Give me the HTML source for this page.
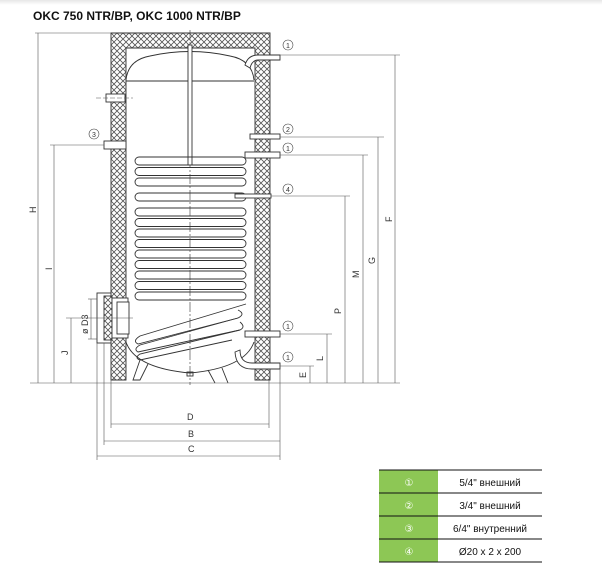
<!DOCTYPE html>
<html><head><meta charset="utf-8"><style>
html,body{margin:0;padding:0;background:#fff;}
body{width:602px;height:565px;overflow:hidden;position:relative;}
svg{position:absolute;left:0;top:0;}
</style></head><body>
<svg width="602" height="565" viewBox="0 0 602 565" font-family="Liberation Sans, sans-serif">
<defs>
<linearGradient id="tg" x1="0" y1="0" x2="0" y2="1"><stop offset="0" stop-color="#e6e6e6"/><stop offset="1" stop-color="#fff"/></linearGradient>
<pattern id="hx" width="6" height="6" patternUnits="userSpaceOnUse">
<rect width="6" height="6" fill="#fff"/>
<path d="M0 0L6 6M6 0L0 6" stroke="#555" stroke-width="0.8"/>
</pattern>
</defs>
<rect x="0" y="0" width="602" height="5" fill="url(#tg)"/>
<text x="33" y="20" font-size="12" font-weight="bold" fill="#111">OKC 750 NTR/BP, OKC 1000 NTR/BP</text>

<g stroke="#333" stroke-width="0.9" fill="none">
<path d="M111 33H270V380H255V48H126V380H111Z" fill="url(#hx)"/>
<rect x="97" y="293" width="14" height="50" fill="#fff"/>
<rect x="104" y="296" width="8" height="44" fill="url(#hx)"/>
<rect x="112" y="298" width="16" height="40" fill="#fff"/>
<rect x="117" y="302" width="12" height="32" fill="#fff"/>
<path d="M126 80Q128 60 150 56Q190 47 230 56Q252 60 254 80"/>
<line x1="126" y1="81" x2="254" y2="81"/>
<line x1="190" y1="30" x2="190" y2="385" stroke-dasharray="10 2 2 2" stroke-width="0.6"/>
<rect x="188" y="45" width="4" height="120" fill="#fff"/>
<path d="M126 342Q135 368 190 373Q245 368 254 342"/>
<path d="M140 360L133 380H140L148 364"/>
<path d="M208 370L215 383M222 368L228 383"/>
<rect x="187" y="372" width="6" height="4"/>
<g stroke-width="0.9">
<rect x="135" y="157" width="111" height="8" rx="4"/>
<rect x="135" y="167.5" width="111" height="8" rx="4"/>
<rect x="135" y="178" width="111" height="8" rx="4"/>
<rect x="135" y="193" width="111" height="8" rx="4"/>
<rect x="135" y="208" width="111" height="8" rx="4"/>
<rect x="135" y="218.5" width="111" height="8" rx="4"/>
<rect x="135" y="229" width="111" height="8" rx="4"/>
<rect x="135" y="239.5" width="111" height="8" rx="4"/>
<rect x="135" y="250" width="111" height="8" rx="4"/>
<rect x="135" y="260.5" width="111" height="8" rx="4"/>
<rect x="135" y="271" width="111" height="8" rx="4"/>
<rect x="135" y="281.5" width="111" height="8" rx="4"/>
<rect x="135" y="292" width="111" height="8" rx="4"/>
<path d="M246 304L140 336Q132 341 138 344L238 318Q246 314 238 310"/>
<path d="M238 318L140 345Q133 349 138 352L240 330Q246 327 240 322"/>
<path d="M240 330L140 354Q134 358 140 360L232 340"/>
</g>
<path d="M245 65Q248 55 258 55H280V60H258Q252 60 250 68Z" fill="#fff"/>
<rect x="250" y="134" width="30" height="5" fill="#fff"/>
<rect x="245" y="152" width="35" height="6" fill="#fff"/>
<rect x="235" y="194" width="36" height="4" fill="#fff"/>
<rect x="245" y="331" width="35" height="6" fill="#fff"/>
<path d="M240 350Q240 363 252 363H280V369H252Q236 369 235 352Z" fill="#fff"/>
<rect x="104" y="141" width="22" height="8" fill="#fff"/>
<rect x="106" y="94" width="19" height="8" fill="#fff"/>
</g>
<g stroke="#555" stroke-width="0.6" fill="none">
<line x1="96" y1="98" x2="133" y2="98" stroke-dasharray="5 2"/>
<line x1="280" y1="55" x2="400" y2="55"/><line x1="395" y1="55" x2="395" y2="383"/>
<line x1="280" y1="137" x2="384" y2="137"/><line x1="378" y1="137" x2="378" y2="383"/>
<line x1="280" y1="155" x2="368" y2="155"/><line x1="363" y1="155" x2="363" y2="383"/>
<line x1="271" y1="196" x2="350" y2="196"/><line x1="345" y1="196" x2="345" y2="383"/>
<line x1="280" y1="334" x2="332" y2="334"/><line x1="327" y1="334" x2="327" y2="383"/>
<line x1="280" y1="366" x2="314" y2="366"/><line x1="310" y1="366" x2="310" y2="383"/>
<line x1="30" y1="383" x2="400" y2="383"/>
<line x1="35" y1="33" x2="111" y2="33"/><line x1="38" y1="33" x2="38" y2="383"/>
<line x1="50" y1="145" x2="104" y2="145"/><line x1="54" y1="145" x2="54" y2="383"/>
<line x1="66" y1="318" x2="133" y2="318"/><line x1="71" y1="318" x2="71" y2="383"/>
<line x1="88" y1="299" x2="97" y2="299"/><line x1="88" y1="339" x2="97" y2="339"/><line x1="91" y1="299" x2="91" y2="339"/>
<line x1="111" y1="380" x2="111" y2="428"/><line x1="269" y1="380" x2="269" y2="428"/>
<line x1="104" y1="343" x2="104" y2="445"/><line x1="280" y1="369" x2="280" y2="460"/>
<line x1="97" y1="343" x2="97" y2="460"/>
<line x1="111" y1="424" x2="269" y2="424"/>
<line x1="104" y1="441" x2="280" y2="441"/>
<line x1="97" y1="456" x2="280" y2="456"/>
</g>
<g font-size="9" fill="#333">
<text x="187" y="420">D</text><text x="188" y="437">B</text><text x="188" y="452">C</text>
<text transform="translate(392,222) rotate(-90)">F</text>
<text transform="translate(375,264) rotate(-90)">G</text>
<text transform="translate(359,278) rotate(-90)">M</text>
<text transform="translate(341,314) rotate(-90)">P</text>
<text transform="translate(323,361) rotate(-90)">L</text>
<text transform="translate(306,378) rotate(-90)">E</text>
<text transform="translate(36,213) rotate(-90)">H</text>
<text transform="translate(52,270) rotate(-90)">I</text>
<text transform="translate(68,355) rotate(-90)">J</text>
<text transform="translate(88,334) rotate(-90)">ø D3</text>
</g>
<g font-size="9" fill="#333" stroke="#444" stroke-width="0.6">
<g fill="none"><circle cx="288" cy="45" r="5"/><circle cx="288" cy="129" r="5"/><circle cx="288" cy="148" r="5"/><circle cx="288" cy="189" r="5"/><circle cx="288" cy="326" r="5"/><circle cx="288" cy="357" r="5"/><circle cx="94" cy="134" r="5"/></g>
<g stroke="none" font-size="7" text-anchor="middle"><text x="288" y="48">1</text><text x="288" y="132">2</text><text x="288" y="151">1</text><text x="288" y="192">4</text><text x="288" y="329">1</text><text x="288" y="360">1</text><text x="94" y="137">3</text></g>
</g>
<rect x="379" y="470" width="59" height="92" fill="#8dc755"/>
<g stroke="#111" stroke-width="1"><line x1="379" y1="470" x2="542" y2="470"/><line x1="379" y1="493" x2="542" y2="493"/><line x1="379" y1="516" x2="542" y2="516"/><line x1="379" y1="539" x2="542" y2="539"/><line x1="379" y1="562" x2="542" y2="562"/></g>
<g font-size="10" fill="#fff" text-anchor="middle" font-family="DejaVu Sans, sans-serif"><text x="409" y="486">①</text><text x="409" y="509">②</text><text x="409" y="532">③</text><text x="409" y="555">④</text></g>
<g font-size="10" fill="#111" text-anchor="middle"><text x="490" y="486">5/4" внешний</text><text x="490" y="509">3/4" внешний</text><text x="490" y="532">6/4" внутренний</text><text x="490" y="555">Ø20 x 2 x 200</text></g>
</svg>
</body></html>
